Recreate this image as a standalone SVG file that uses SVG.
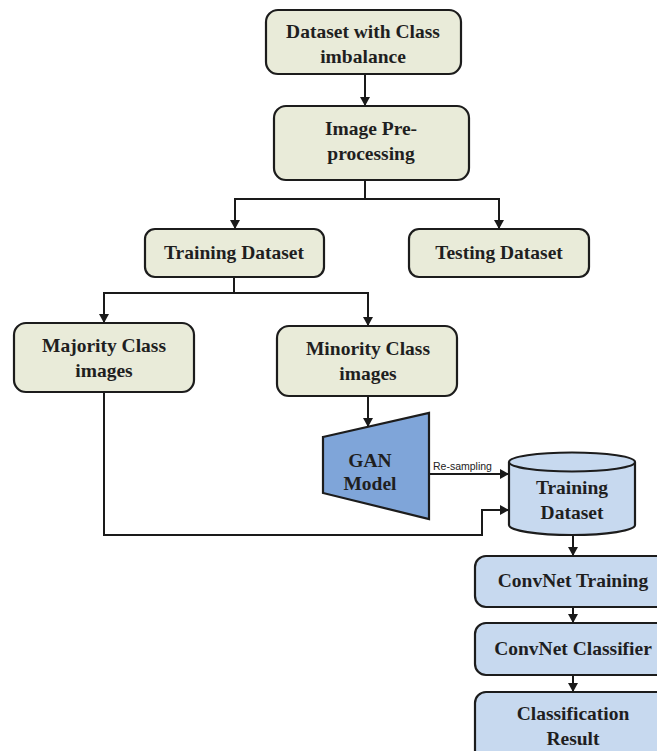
<svg xmlns="http://www.w3.org/2000/svg" width="657" height="751" viewBox="0 0 657 751">
  <defs>
    <marker id="arr" markerUnits="userSpaceOnUse" markerWidth="9" markerHeight="10" refX="9" refY="5" orient="auto">
      <path d="M0,0 L9,5 L0,10 z" fill="#1a1a1a"/>
    </marker>
    <style>
      .g { fill: #e9ebd9; stroke: #1c1c1c; stroke-width: 2.2; }
      .b { fill: #c7d9ef; stroke: #1c1c1c; stroke-width: 2.2; }
      .gan { fill: #7fa5d9; stroke: #1c1c1c; stroke-width: 2.2; }
      .t { font-family: "Liberation Serif", "Times New Roman", serif; font-weight: bold; font-size: 19.5px; fill: #1f1f1f; text-anchor: middle; }
      .s { font-family: "Liberation Sans", Arial, sans-serif; font-size: 10.5px; fill: #222; }
      .c { fill: none; stroke: #1a1a1a; stroke-width: 2; }
      .ca { fill: none; stroke: #1a1a1a; stroke-width: 2; marker-end: url(#arr); }
    </style>
  </defs>
  <rect width="657" height="751" fill="#ffffff"/>

  <g id="connectors">
    <line class="ca" x1="365" y1="74" x2="365" y2="106"/>
    <polyline class="c" points="365,180 365,199"/>
    <polyline class="c" points="235,199 499,199"/>
    <line class="ca" x1="235" y1="198" x2="235" y2="229"/>
    <line class="ca" x1="499" y1="198" x2="499" y2="229"/>
    <polyline class="c" points="234,277 234,293"/>
    <polyline class="c" points="104,293 369,293"/>
    <line class="ca" x1="104" y1="292" x2="104" y2="323"/>
    <line class="ca" x1="368" y1="292" x2="368" y2="326"/>
    <line class="ca" x1="368" y1="396" x2="368" y2="427"/>
    <line class="ca" x1="429" y1="474" x2="509" y2="474"/>
    <polyline class="ca" points="104,392 104,535 482,535 482,510 509,510"/>
    <line class="ca" x1="573" y1="535" x2="573" y2="556"/>
    <line class="ca" x1="573" y1="607" x2="573" y2="623"/>
    <line class="ca" x1="573" y1="675" x2="573" y2="692"/>
    <text class="s" x="433" y="470">Re-sampling</text>
  </g>

  <g id="dataset-imbalance">
    <rect class="g" x="266" y="10" width="195" height="64" rx="12"/>
    <text class="t" x="363" y="38">Dataset with Class</text>
    <text class="t" x="363" y="63">imbalance</text>
  </g>

  <g id="preprocessing">
    <rect class="g" x="274" y="106" width="195" height="74" rx="12"/>
    <text class="t" x="371" y="135">Image Pre-</text>
    <text class="t" x="371" y="160">processing</text>
  </g>

  <g id="training-dataset">
    <rect class="g" x="145" y="229" width="179" height="48" rx="10"/>
    <text class="t" x="234" y="259">Training Dataset</text>
  </g>

  <g id="testing-dataset">
    <rect class="g" x="409" y="229" width="180" height="48" rx="10"/>
    <text class="t" x="499" y="259">Testing Dataset</text>
  </g>

  <g id="majority">
    <rect class="g" x="14" y="323" width="180" height="69" rx="12"/>
    <text class="t" x="104" y="352">Majority Class</text>
    <text class="t" x="104" y="377">images</text>
  </g>

  <g id="minority">
    <rect class="g" x="277" y="326" width="180" height="70" rx="12"/>
    <text class="t" x="368" y="355">Minority Class</text>
    <text class="t" x="368" y="380">images</text>
  </g>

  <g id="gan">
    <polygon class="gan" points="323,437 429,413 429,519 323,493"/>
    <text class="t" x="370" y="467">GAN</text>
    <text class="t" x="370" y="490">Model</text>
  </g>

  <g id="training-db">
    <path class="b" d="M509,462 L509,525 A63,10 0 0 0 635,525 L635,462"/>
    <ellipse class="b" cx="572" cy="462" rx="63" ry="9.5"/>
    <text class="t" x="572" y="494">Training</text>
    <text class="t" x="572" y="519">Dataset</text>
  </g>

  <g id="convnet-training">
    <rect class="b" x="475" y="556" width="196" height="51" rx="11"/>
    <text class="t" x="573" y="587">ConvNet Training</text>
  </g>

  <g id="convnet-classifier">
    <rect class="b" x="475" y="623" width="196" height="52" rx="11"/>
    <text class="t" x="573" y="655">ConvNet Classifier</text>
  </g>

  <g id="classification-result">
    <rect class="b" x="475" y="692" width="196" height="70" rx="11"/>
    <text class="t" x="573" y="720">Classification</text>
    <text class="t" x="573" y="745">Result</text>
  </g>
</svg>
